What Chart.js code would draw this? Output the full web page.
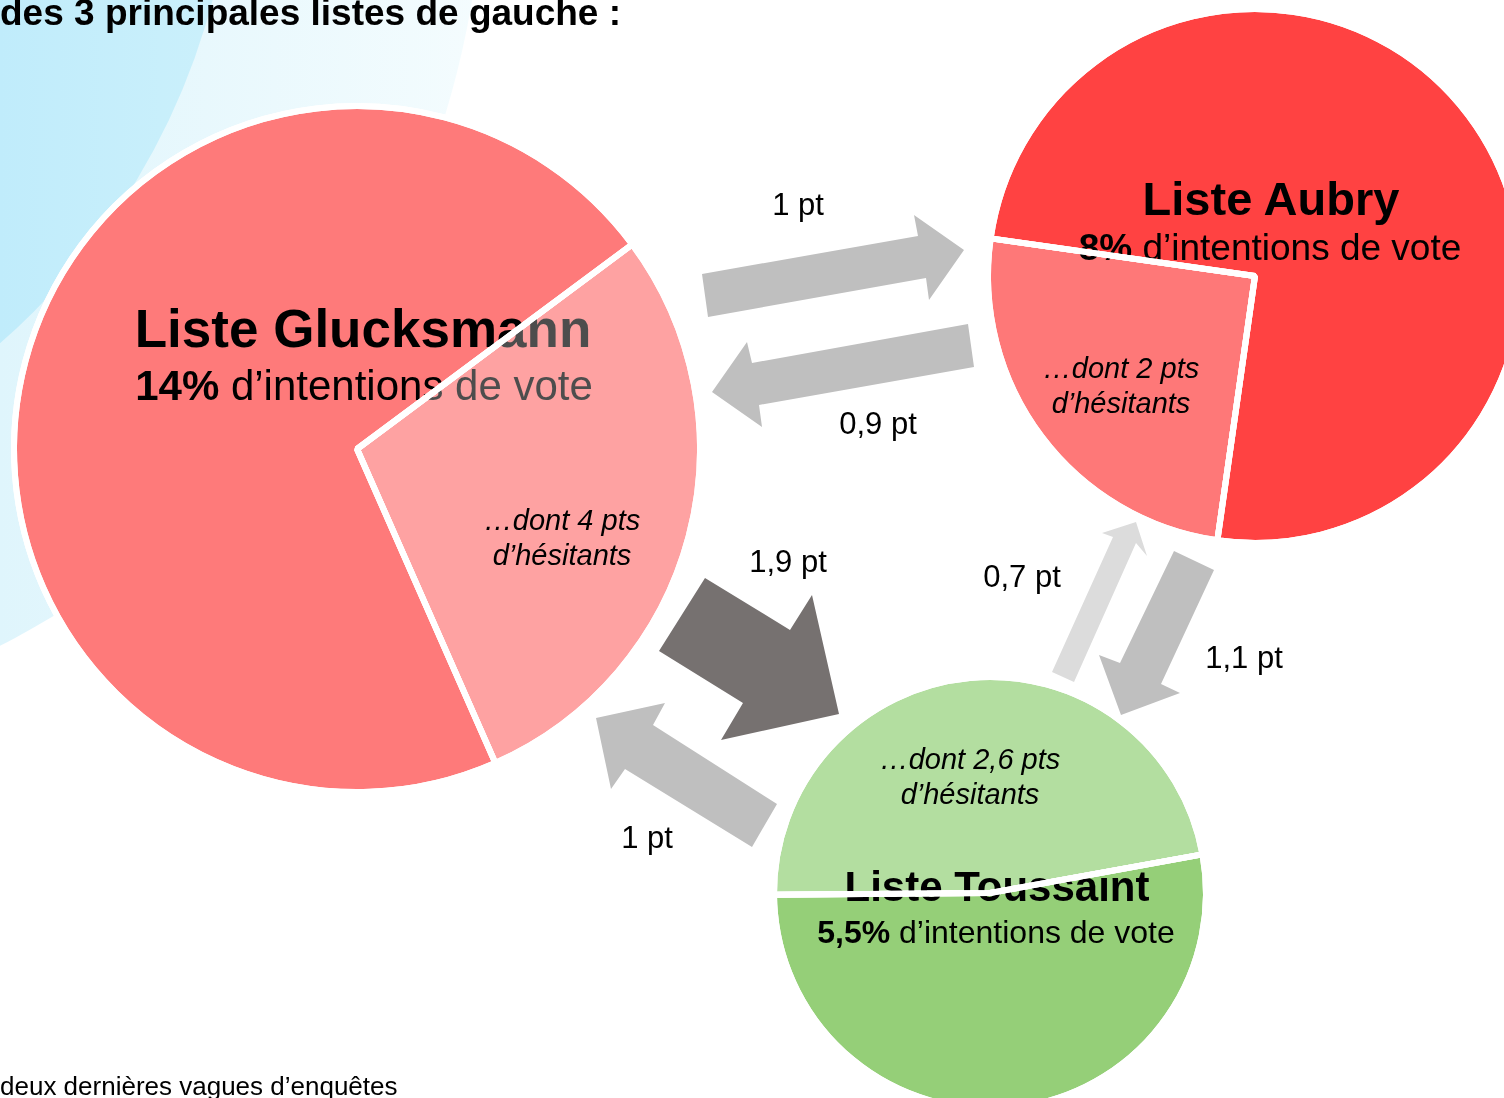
<!DOCTYPE html>
<html lang="fr">
<head>
<meta charset="utf-8">
<title>Transferts entre les 3 principales listes de gauche</title>
<script src="https://cdn.jsdelivr.net/npm/chart.js@4.4.1/dist/chart.umd.min.js"></script>
<style>
html, body { margin: 0; padding: 0; width: 1504px; height: 1098px; overflow: hidden; background: #fff; }
body { position: relative; font-family: "Liberation Sans", Arial, sans-serif; color: #000; }
.txt { position: absolute; white-space: nowrap; line-height: 1; }
canvas { position: absolute; }
svg { position: absolute; left: 0; top: 0; }
</style>
</head>
<body>

<svg id="fond" width="1504" height="1098" style="z-index:0">
  <defs>
    <linearGradient id="bleuClair" gradientUnits="userSpaceOnUse" x1="0" y1="0" x2="480" y2="0">
      <stop offset="0" stop-color="#dff5fc"/>
      <stop offset="1" stop-color="#f4fcfe"/>
    </linearGradient>
    <linearGradient id="bleuFonce" gradientUnits="userSpaceOnUse" x1="0" y1="0" x2="220" y2="0">
      <stop offset="0" stop-color="#c0ecfb"/>
      <stop offset="1" stop-color="#cbf0fb"/>
    </linearGradient>
  </defs>
  <circle cx="-404" cy="-145" r="888" fill="url(#bleuClair)"/>
  <circle cx="-452" cy="-174" r="687" fill="url(#bleuFonce)"/>
</svg>

<svg id="fleches" width="1504" height="1098" style="z-index:4"></svg>

<script>
// données
var listes = ['Liste Glucksmann', 'Liste Aubry', 'Liste Toussaint'];
var intentions = [14, 8, 5.5];
var hesitants = [4, 2, 2.6];
var solides = [10, 6, 2.9];

// transferts entre listes (en points)
var transferts = [1, 0.9, 1.9, 1, 0.7, 1.1];

var couleursSolide = ['#fe7a7a', '#ff4242', '#95cf78'];
var couleursHesitant = ['#fe7a7a', '#fe7878', '#b3dea0'];
var voileHesitant = ['rgba(255,255,255,0.3)', 'rgba(0,0,0,0)', 'rgba(0,0,0,0)'];

var camemberts = [
    { cx: 357, cy: 449, r: 340, axe: 14.8 },
    { cx: 1255, cy: 276, r: 264, axe: 143.1 },
    { cx: 990, cy: 893, r: 213, axe: -95.4 }
];

var textes = [
    { nomX: 363, nomY: 347, nomT: 53, sousX: 364, sousY: 401, sousT: 42, hesX: 562, hesY: 531, hesT: 29 },
    { nomX: 1271, nomY: 215, nomT: 47, sousX: 1270, sousY: 260, sousT: 37, hesX: 1121, hesY: 379, hesT: 29 },
    { nomX: 997, nomY: 902, nomT: 42, sousX: 996, sousY: 943, sousT: 32, hesX: 970, hesY: 770, hesT: 29 }
];

var fleches = [
    { pts: '702,274 918,236 914,215 964,250 929,300 926,278 708,317', couleur: '#bfbfbf', lx: 798, ly: 215 },
    { pts: '968,324 974,367 759,405 762,427 712,392 747,342 752,363', couleur: '#bfbfbf', lx: 878, ly: 434 },
    { pts: '705,578 790,630 812,595 839,714 721,740 743,703 659,651', couleur: '#767170', lx: 788, ly: 572 },
    { pts: '596,718 665,703 653,725 777,804 752,847 625,769 611,789', couleur: '#bfbfbf', lx: 647, ly: 848 },
    { pts: '1052,672 1113,537 1102,533 1136,522 1147,556 1136,543 1074,682', couleur: '#dcdcdc', lx: 1022, ly: 587 },
    { pts: '1174,551 1214,570 1161,684 1180,693 1121,715 1099,655 1120,663', couleur: '#bfbfbf', lx: 1244, ly: 668 }
];

function virgule(v) {
    return String(v).replace('.', ',');
}

function poserTexte(html, x, base, taille, style, centre, z) {
    var d = document.createElement('div');
    d.className = 'txt';
    d.innerHTML = html;
    d.style.left = x + 'px';
    d.style.top = (base - 0.8465 * taille) + 'px';
    d.style.fontSize = taille + 'px';
    d.style.zIndex = z || 2;
    if (centre) d.style.transform = 'translateX(-50%)';
    if (style) d.style.cssText += style;
    document.body.appendChild(d);
    return d;
}

function creerCamembert(i, couleurs, z) {
    var c = camemberts[i];
    var taille = 2 * c.r + 24;
    var canvas = document.createElement('canvas');
    canvas.width = taille;
    canvas.height = taille;
    canvas.style.left = (c.cx - taille / 2) + 'px';
    canvas.style.top = (c.cy - taille / 2) + 'px';
    canvas.style.zIndex = z;
    document.body.appendChild(canvas);

    var part = hesitants[i] / intentions[i] * 360;

    return new Chart(canvas, {
        type: 'pie',
        data: {
            labels: ['Hésitants', 'Certains'],
            datasets: [{
                data: [hesitants[i], solides[i]],
                backgroundColor: couleurs,
                borderColor: '#ffffff',
                borderWidth: 6,
                radius: c.r + 3,
                rotation: c.axe + 90 - part / 2
            }]
        },
        options: {
            responsive: false,
            animation: false,
            devicePixelRatio: 1,
            events: [],
            layout: { padding: 0 },
            plugins: { legend: { display: false }, tooltip: { enabled: false } }
        }
    });
}

// camemberts de base, textes, puis voile + séparateurs par-dessus
for (var i = 0; i < listes.length; i++) {
    creerCamembert(i, [couleursHesitant[i], couleursSolide[i]], 1);
    creerCamembert(i, [voileHesitant[i], 'rgba(0,0,0,0)'], 3);

    var t = textes[i];
    poserTexte(listes[i], t.nomX, t.nomY, t.nomT, 'font-weight:bold;', true, 2);
    poserTexte('<b>' + virgule(intentions[i]) + '%</b> d’intentions de vote', t.sousX, t.sousY, t.sousT, '', true, 2);
    var mot = hesitants[i] > 1 ? ' pts' : ' pt';
    poserTexte('…dont ' + virgule(hesitants[i]) + mot, t.hesX, t.hesY, t.hesT, 'font-style:italic;', true, 4);
    poserTexte('d’hésitants', t.hesX, t.hesY + 35, t.hesT, 'font-style:italic;', true, 4);
}

// flèches de transferts
var svg = document.getElementById('fleches');
var html = '';
for (var j = 0; j < fleches.length; j++) {
    html += '<polygon points="' + fleches[j].pts + '" fill="' + fleches[j].couleur + '"/>';
}
svg.innerHTML = html;

for (var k = 0; k < transferts.length; k++) {
    poserTexte(virgule(transferts[k]) + ' pt', fleches[k].lx, fleches[k].ly, 31, '', true, 5);
}

poserTexte('des 3 principales listes de gauche :', 0, 25, 37, 'font-weight:bold;', false, 5);
poserTexte('deux dernières vagues d’enquêtes', 0, 1095, 26, '', false, 5);
</script>
</body>
</html>
